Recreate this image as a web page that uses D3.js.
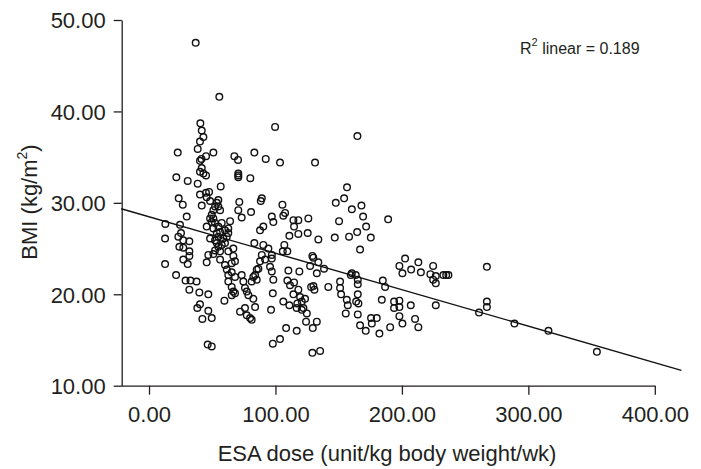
<!DOCTYPE html>
<html>
<head>
<meta charset="utf-8">
<script src="https://cdn.jsdelivr.net/npm/d3@7"></script>
<style>
  html, body { margin: 0; padding: 0; background: #fff; }
  svg { display: block; }
  text { font-family: "Liberation Sans", Arial, Helvetica, sans-serif; fill: #231f20; }
</style>
</head>
<body>
<svg id="chart" width="701" height="469"></svg>
<script>
// ESA dose (unit/kg body weight/wk)
const esaDose = [
  22.7,21.6,30.6,23.5,26.7,12.9,24.5,25.3,12.7,31.9,
  24.0,27.1,31.9,31.9,27.1,30.6,12.7,21.4,28.9,32.8,
  37.6,31.9,29.8,39.8,46.9,40.3,38.2,46.9,42.2,49.6,
  46.4,49.6,59.6,36.9,55.6,40.6,41.7,43.0,40.3,38.5,
  45.1,50.9,40.3,41.5,67.5,70.4,83.3,92.3,103.6,99.7,
  41.7,40.3,43.0,45.1,38.5,56.7,70.6,70.6,70.6,80.1,
  40.3,45.1,47.5,45.6,48.3,71.4,89.2,88.4,105.5,54.8,
  53.6,52.2,54.8,56.2,50.9,41.7,70.6,80.7,49.6,48.3,
  50.9,49.6,52.2,73.3,64.1,45.6,50.9,54.8,57.5,53.6,
  56.2,60.1,62.7,48.3,52.2,54.8,58.8,61.5,62.7,53.6,
  54.8,57.5,60.1,52.2,56.2,66.7,83.3,46.9,50.9,62.7,
  66.7,45.6,56.2,60.1,65.4,68.0,61.5,62.7,65.4,68.0,
  62.7,73.3,74.6,81.2,83.9,85.2,65.4,66.7,68.0,65.4,
  75.9,77.3,78.6,82.5,72.0,75.9,77.3,79.9,83.9,81.2,
  107.6,106.2,97.1,98.3,90.4,87.8,114.2,118.1,126.0,114.7,
  118.1,111.0,125.5,90.4,94.4,97.1,97.1,91.8,89.2,87.8,
  107.0,105.8,109.4,86.5,82.5,85.2,95.7,97.1,98.3,110.2,
  118.9,109.4,114.7,111.5,118.1,114.2,119.5,123.4,120.8,117.3,
  106.2,111.0,116.8,120.8,122.1,124.8,124.2,132.7,129.5,116.8,
  108.4,103.6,97.9,97.9,96.5,129.2,135.3,164.8,131.3,156.6,
  154.3,147.7,160.4,168.0,169.3,171.7,164.6,158.2,146.9,150.3,
  166.9,175.4,189.1,133.9,129.2,130.0,127.4,133.9,138.4,132.7,
  130.0,128.2,130.8,141.8,151.1,151.1,151.9,156.4,157.2,155.6,
  165.1,165.1,163.5,160.4,159.6,165.1,163.8,165.6,165.1,175.6,
  180.1,176.2,171.4,166.9,184.9,186.7,184.1,193.8,198.0,193.8,
  198.0,207.0,198.0,200.4,210.4,213.0,226.8,190.7,182.2,202.5,
  198.0,200.4,207.3,213.0,215.0,224.7,222.5,226.8,224.7,226.8,
  232.8,235.0,236.8,267.2,267.2,267.2,261.0,289.0,315.9,354.2,
  23.2,27.1
];
// BMI (kg/m2), same order as esaDose
const bmi = [
  35.5,32.8,32.4,30.5,29.8,27.7,27.6,26.7,26.1,25.8,
  25.2,25.1,24.7,24.2,23.8,23.3,23.3,22.1,21.5,21.5,
  21.4,20.5,28.5,20.2,20.0,18.9,18.5,18.2,17.3,17.4,
  14.5,14.3,19.3,47.5,41.6,38.7,37.9,37.2,36.7,35.9,
  35.1,35.5,34.6,34.8,35.1,34.7,35.5,34.8,34.4,38.3,
  33.8,33.4,33.2,33.0,32.1,31.8,33.2,33.0,32.8,32.7,
  30.9,31.1,31.2,30.6,30.2,30.1,30.5,30.2,29.8,30.3,
  30.0,29.6,29.6,29.2,29.2,29.7,29.2,29.0,28.7,28.3,
  28.3,27.9,27.8,28.4,28.0,27.4,27.2,27.4,27.8,26.7,
  26.8,27.0,27.2,26.1,25.9,26.3,26.1,26.3,26.7,25.6,
  25.2,25.4,25.6,24.8,24.7,25.0,25.6,24.3,24.4,24.7,
  24.2,23.5,23.8,23.2,23.4,23.6,22.7,22.1,22.4,21.9,
  21.4,22.1,21.4,21.4,22.1,22.7,20.8,20.3,20.1,19.9,
  20.7,20.3,19.9,19.5,18.1,18.5,17.7,17.4,18.6,17.2,
  28.9,28.6,28.5,27.9,27.4,27.0,28.1,28.1,28.3,27.4,
  26.6,26.4,26.7,25.4,25.0,24.3,23.9,23.8,24.3,23.6,
  25.4,24.7,24.7,22.8,21.9,21.6,23.0,22.5,21.6,22.6,
  22.5,21.5,21.3,21.0,20.5,20.0,19.7,19.5,19.2,19.0,
  19.2,18.8,18.5,18.3,18.5,17.9,17.0,17.0,16.3,16.0,
  16.3,15.1,14.6,20.1,18.3,13.6,13.8,37.3,34.4,31.7,
  30.5,30.0,29.3,29.7,28.5,27.4,26.8,26.3,26.2,28.0,
  24.9,26.2,28.2,26.0,24.2,24.0,23.1,23.5,22.8,22.3,
  20.9,20.8,20.5,20.8,21.4,20.7,20.0,19.4,18.8,17.9,
  21.6,21.1,22.1,22.3,22.1,20.0,19.2,19.0,17.8,17.4,
  17.4,16.8,16.0,16.6,21.5,20.8,19.4,19.2,19.3,18.5,
  18.6,18.8,17.6,16.8,17.3,16.4,18.8,16.4,15.7,23.9,
  23.1,22.3,22.7,23.5,22.4,23.1,22.2,22.0,21.6,21.2,
  22.1,22.1,22.1,23.0,19.2,18.6,18.0,16.8,16.0,13.7,
  26.3,25.9
];
const xTicks = [0, 100, 200, 300, 400];
const yTicks = [10, 20, 30, 40, 50];
const fitIntercept = 28.48;
const fitSlope = -0.0399;
const fitRange = [-22, 421];
const rSquared = "0.189";
const xTitle = "ESA dose (unit/kg body weight/wk)";

const svg = d3.select("#chart");
svg.append("rect").attr("width", 701).attr("height", 469).attr("fill", "#fff");

const x = d3.scaleLinear().domain([-22, 400]).range([121.2, 654.8]);
const y = d3.scaleLinear().domain([10, 50]).range([385.7, 20]);
const fmt = d3.format(".2f");

// axes
const gx = svg.append("g").attr("transform", "translate(0,385.7)")
  .call(d3.axisBottom(x).tickValues(xTicks).tickFormat(fmt).tickSizeInner(9).tickSizeOuter(0).tickPadding(12));
const gy = svg.append("g").attr("transform", "translate(121.7,0)")
  .call(d3.axisLeft(y).tickValues(yTicks).tickFormat(fmt).tickSizeInner(8).tickSizeOuter(0).tickPadding(8));
[gx, gy].forEach(g => {
  g.select(".domain").attr("stroke", "#231f20").attr("stroke-width", 1.3);
  g.selectAll(".tick line").attr("stroke", "#231f20").attr("stroke-width", 1.3);
  g.selectAll(".tick text").attr("font-size", 22).attr("fill", "#231f20")
    .style("font-family", '"Liberation Sans", Arial, sans-serif');
});
gy.selectAll(".tick text").attr("dy", "0.36em");

// points
const pts = esaDose.map((d, i) => [d, bmi[i]]);
svg.append("g").selectAll("circle").data(pts).join("circle")
  .attr("cx", d => x(d[0])).attr("cy", d => y(d[1])).attr("r", 3.3)
  .attr("fill", "none").attr("stroke", "#111").attr("stroke-width", 1.4);

// fit line
svg.append("line")
  .attr("x1", x(fitRange[0])).attr("y1", y(fitIntercept + fitSlope * fitRange[0]))
  .attr("x2", x(fitRange[1])).attr("y2", y(fitIntercept + fitSlope * fitRange[1]))
  .attr("stroke", "#111").attr("stroke-width", 1.4);

// R2 label
const r2 = svg.append("text").attr("x", 520).attr("y", 54).attr("font-size", 16);
r2.append("tspan").text("R");
r2.append("tspan").attr("font-size", 11).attr("dy", -8).text("2");
r2.append("tspan").attr("dy", 8).text(" linear = " + rSquared);

// x title
svg.append("text").attr("x", 387).attr("y", 461).attr("text-anchor", "middle")
  .attr("font-size", 22).text(xTitle);

// y title
const yt = svg.append("text").attr("transform", "translate(37,202) rotate(-90)")
  .attr("text-anchor", "middle").attr("font-size", 22);
yt.append("tspan").text("BMI (kg/m");
yt.append("tspan").attr("font-size", 14).attr("dy", -10).text("2");
yt.append("tspan").attr("dy", 10).text(")");
</script>
</body>
</html>
